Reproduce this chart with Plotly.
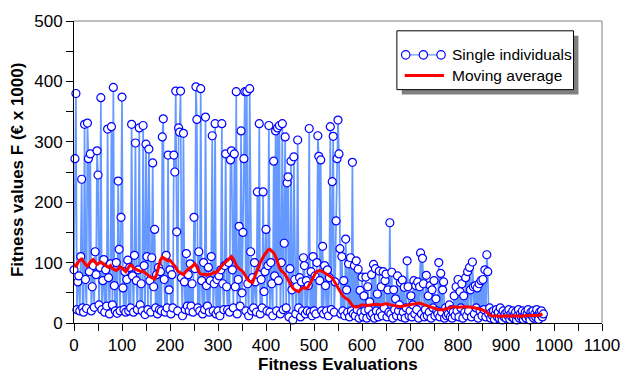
import plotly.graph_objects as go

# ---------------- data ----------------
evals = list(range(0, 980, 2))

fitness = [
    88, 272, 380, 22, 68, 78, 20, 110, 238, 25,
    18, 329, 72, 24, 331, 272, 85, 280, 20, 60,
    95, 26, 118, 80, 285, 245, 30, 92, 373, 22,
    70, 105, 18, 88, 28, 321, 75, 15, 98, 325,
    30, 390, 62, 20, 100, 16, 235, 122, 20, 175,
    374, 58, 22, 85, 18, 72, 104, 20, 92, 25,
    329, 78, 18, 112, 298, 70, 22, 88, 323, 30,
    65, 20, 327, 95, 14, 296, 110, 22, 288, 70,
    18, 108, 265, 60, 155, 25, 80, 15, 92, 22,
    85, 20, 308, 338, 72, 18, 112, 25, 278, 55,
    88, 15, 80, 25, 278, 250, 384, 151, 20, 323,
    316, 384, 75, 12, 314, 68, 22, 115, 28, 80,
    20, 98, 28, 65, 18, 175, 90, 391, 337, 25,
    118, 20, 388, 70, 15, 100, 22, 341, 62, 28,
    92, 18, 70, 110, 310, 20, 65, 330, 15, 72,
    20, 78, 12, 88, 330, 65, 22, 95, 280, 60,
    22, 100, 18, 270, 285, 88, 25, 280, 60, 383,
    15, 72, 160, 28, 318, 50, 150, 272, 383, 20,
    383, 65, 12, 388, 118, 20, 75, 25, 100, 68,
    18, 217, 80, 330, 15, 72, 25, 217, 52, 85,
    155, 20, 95, 327, 18, 100, 65, 12, 268, 78,
    318, 20, 323, 70, 327, 15, 100, 330, 22, 132,
    308, 25, 232, 242, 10, 90, 268, 55, 5, 275,
    72, 15, 60, 303, 25, 75, 10, 68, 20, 108,
    95, 15, 70, 20, 62, 322, 18, 85, 12, 110,
    20, 78, 15, 100, 310, 276, 70, 270, 20, 127,
    15, 95, 62, 20, 88, 12, 75, 325, 22, 234,
    309, 18, 68, 169, 272, 336, 280, 123, 15, 110,
    20, 70, 12, 139, 55, 18, 98, 10, 108, 20,
    266, 15, 95, 12, 103, 22, 89, 8, 54, 18,
    76, 10, 45, 20, 76, 8, 60, 22, 35, 12,
    80, 15, 97, 8, 90, 20, 48, 10, 86, 18,
    60, 12, 85, 25, 70, 81, 10, 55, 18, 166,
    15, 84, 8, 55, 22, 40, 12, 78, 20, 30,
    67, 10, 71, 18, 59, 8, 25, 103, 60, 12,
    20, 45, 10, 30, 70, 15, 62, 22, 68, 8,
    60, 116, 15, 107, 65, 10, 22, 79, 12, 45,
    18, 62, 8, 55, 25, 70, 12, 40, 20, 15,
    100, 10, 82, 18, 55, 68, 8, 25, 12, 20,
    15, 30, 10, 22, 8, 18, 45, 12, 60, 20,
    72, 10, 52, 25, 65, 8, 45, 18, 75, 12,
    85, 20, 92, 55, 10, 101, 60, 15, 62, 25,
    58, 8, 65, 20, 70, 12, 72, 22, 88, 10,
    113, 85, 15, 25, 8, 18, 12, 20, 6, 15,
    22, 10, 18, 8, 25, 12, 5, 20, 10, 15,
    8, 18, 12, 22, 6, 15, 10, 20, 8, 14,
    18, 5, 12, 22, 8, 15, 10, 20, 6, 12,
    18, 8, 15, 22, 10, 5, 18, 12, 20, 8,
    15, 10, 22, 12, 6, 18, 14, 20, 10, 15,
]

ma_evals = [
    0, 4, 8, 12, 16, 20, 24, 28, 32, 36, 40, 44, 48, 52, 56, 60, 64, 68, 72, 76,
    80, 84, 88, 92, 96, 100, 104, 108, 112, 116, 120, 124, 128, 132, 136, 140,
    144, 148, 152, 156, 160, 164, 168, 172, 176, 180, 184, 188, 192, 196, 200,
    204, 208, 212, 216, 220, 224, 228, 232, 236, 240, 244, 248, 252, 256, 260,
    264, 268, 272, 276, 280, 284, 288, 292, 296, 300, 304, 308, 312, 316, 320,
    324, 328, 332, 336, 340, 344, 348, 352, 356, 360, 364, 368, 372, 376, 380,
    384, 388, 392, 396, 400, 404, 408, 412, 416, 420, 424, 428, 432, 436, 440,
    444, 448, 452, 456, 460, 464, 468, 472, 476, 480, 484, 488, 492, 496, 500,
    504, 508, 512, 516, 520, 524, 528, 532, 536, 540, 544, 548, 552, 556, 560,
    564, 568, 572, 576, 580, 584, 588, 592, 596, 600, 610, 620, 630, 640, 650,
    660, 670, 680, 690, 700, 710, 720, 730, 740, 750, 760, 770, 780, 790, 800,
    810, 820, 830, 840, 850, 860, 865, 870, 880, 890, 900, 910, 920, 930, 940,
    950, 960, 970, 976,
]

ma_values = [
    98, 93, 100, 104, 106, 101, 97, 94, 99, 103, 105, 101, 97, 99, 101, 99, 96, 94, 92, 95,
    90, 88, 87, 89, 93, 91, 88, 85, 90, 95, 96, 91, 89, 88, 87, 85,
    86, 83, 81, 78, 76, 74, 73, 80, 92, 104, 109, 107, 104, 103, 104,
    100, 96, 92, 86, 84, 82, 80, 84, 88, 91, 92, 95, 98, 93, 85,
    81, 80, 81, 79, 81, 80, 82, 84, 83, 86, 90, 95, 98, 100, 103,
    107, 110, 106, 98, 93, 90, 88, 85, 80, 74, 70, 68, 67, 75, 85,
    92, 100, 107, 112, 116, 121, 122, 119, 116, 110, 100, 92, 86, 84, 80,
    74, 68, 62, 58, 55, 53, 52, 55, 58, 59, 57, 60, 66, 74, 80,
    84, 86, 87, 86, 84, 82, 80, 78, 76, 72, 66, 60, 54, 50, 45,
    42, 40, 38, 33, 29, 27, 26, 27, 29, 30, 29, 30, 31, 30, 32,
    30, 28, 27, 29, 30, 32, 33, 30, 27, 25, 22, 22, 25, 27, 26,
    27, 27, 26, 24, 22, 18, 14, 12, 11, 11, 12, 11, 12, 11, 12,
    12, 13, 13, 15,
]

x_ticks = [0, 100, 200, 300, 400, 500, 600, 700, 800, 900, 1000, 1100]
y_ticks = [0, 100, 200, 300, 400, 500]
series_names = ["Single individuals", "Moving average"]

# ---------------- figure ----------------
FONT = "Liberation Sans, Arial, sans-serif"
W, H = 632, 379
ML, MR, MT, MB = 74, 20, 15, 56
PW, PH = W - ML - MR, H - MT - MB


def px(xp):
    return (xp - ML) / PW


def py(yp):
    return (H - MB - yp) / PH


fig = go.Figure()
fig.add_trace(go.Scatter(
    x=evals, y=fitness, mode="lines+markers", name=series_names[0],
    line=dict(color="#6699ff", width=1.7),
    marker=dict(symbol="circle", size=8, color="white",
                line=dict(color="#0000ff", width=1.2)),
    cliponaxis=False, showlegend=False,
))
fig.add_trace(go.Scatter(
    x=ma_evals, y=ma_values, mode="lines", name=series_names[1],
    line=dict(color="#ff0000", width=3), showlegend=False,
))

axis_common = dict(
    showgrid=False, zeroline=False, showline=True, linecolor="black", linewidth=1,
    ticks="outside", ticklen=7, tickcolor="black", tickwidth=1,
    tickfont=dict(family=FONT, size=17, color="black"),
    minor=dict(ticks="outside", ticklen=7, tickcolor="black", tickwidth=1, showgrid=False),
)

fig.update_layout(
    width=W, height=H,
    margin=dict(l=ML, r=MR, t=MT, b=MB, pad=0),
    paper_bgcolor="white", plot_bgcolor="white",
    showlegend=False,
    xaxis=dict(range=[0, 1100], tickvals=x_ticks, minor_dtick=50, minor_tick0=0, **axis_common),
    yaxis=dict(range=[0, 500], tickvals=y_ticks, minor_dtick=50, minor_tick0=0, **axis_common),
)

shapes = [
    # top and right frame lines (grey)
    dict(type="line", xref="paper", yref="paper", x0=0, x1=1, y0=1, y1=1,
         line=dict(color="#808080", width=1)),
    dict(type="line", xref="paper", yref="paper", x0=1, x1=1, y0=0, y1=1,
         line=dict(color="#808080", width=1)),
    # legend shadow and box
    dict(type="rect", xref="paper", yref="paper", x0=px(408), x1=px(588), y0=py(90), y1=py(30),
         fillcolor="#808080", line=dict(width=0)),
    dict(type="rect", xref="paper", yref="paper", x0=px(403), x1=px(583), y0=py(85), y1=py(25),
         fillcolor="white", line=dict(color="black", width=1)),
    # legend sample 1
    dict(type="line", xref="paper", yref="paper", x0=px(412), x1=px(448), y0=py(49.5), y1=py(49.5),
         line=dict(color="#6699ff", width=1.3)),
    # legend sample 2
    dict(type="line", xref="paper", yref="paper", x0=px(411), x1=px(451), y0=py(70.5), y1=py(70.5),
         line=dict(color="#ff0000", width=3)),
]
for cx in (412, 430, 448):
    shapes.append(dict(type="circle", xref="paper", yref="paper",
                       x0=px(cx - 4.3), x1=px(cx + 4.3), y0=py(49.5 + 4.3), y1=py(49.5 - 4.3),
                       fillcolor="white", line=dict(color="#0000ff", width=1.2)))
fig.update_layout(shapes=shapes)

annotations = [
    dict(text="Fitness Evaluations", xref="paper", yref="paper", x=0.5, y=py(365),
         xanchor="center", yanchor="middle", showarrow=False,
         font=dict(family=FONT, size=17, color="black", weight="bold")),
    dict(text="Fitness values F (€ x 1000)", xref="paper", yref="paper", x=px(16), y=py(167),
         xanchor="center", yanchor="middle", showarrow=False, textangle=-90,
         font=dict(family=FONT, size=17, color="black", weight="bold")),
    dict(text=series_names[0], xref="paper", yref="paper", x=px(457), y=py(49.5),
         xanchor="left", yanchor="middle", showarrow=False,
         font=dict(family=FONT, size=15.5, color="black")),
    dict(text=series_names[1], xref="paper", yref="paper", x=px(457), y=py(70.5),
         xanchor="left", yanchor="middle", showarrow=False,
         font=dict(family=FONT, size=15.5, color="black")),
]
fig.update_layout(annotations=annotations)

fig.write_html("out.html")
